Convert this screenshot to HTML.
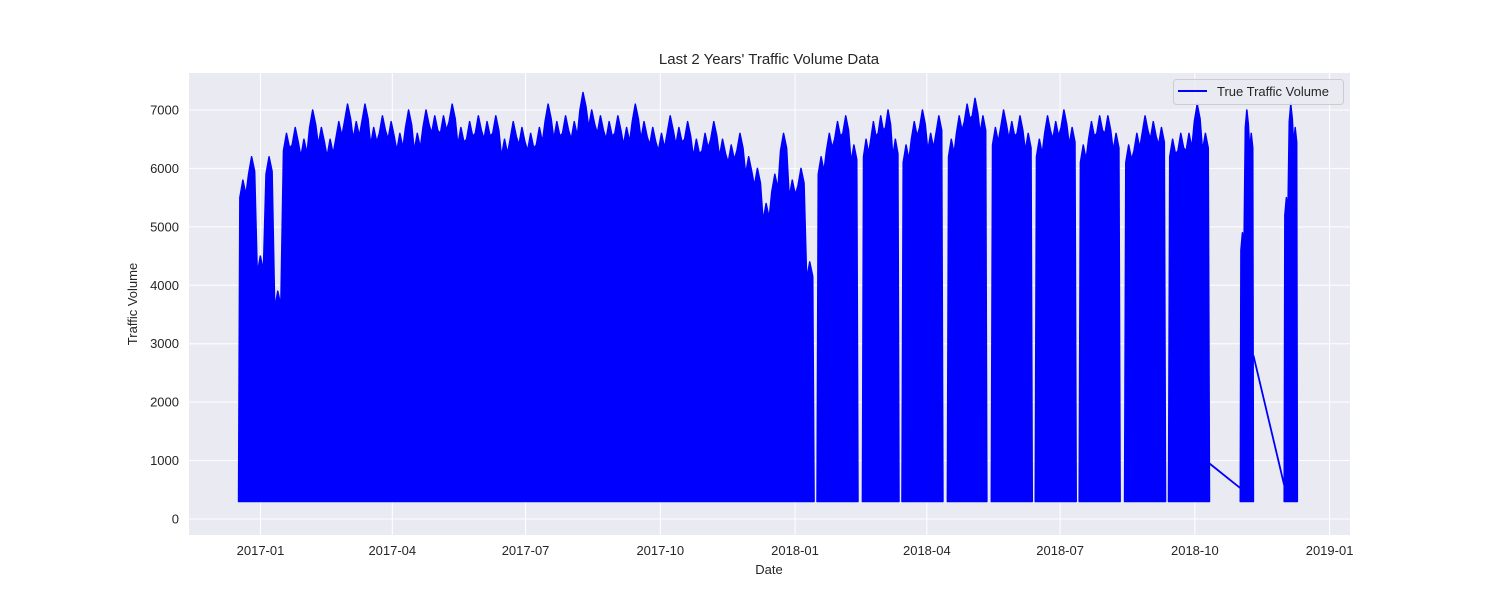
<!DOCTYPE html>
<html><head><meta charset="utf-8"><style>
body{margin:0;background:#fff;}
svg{display:block;font-family:"Liberation Sans",sans-serif;}
</style></head><body>
<svg id="chart" width="1500" height="600" viewBox="0 0 1500 600" xmlns="http://www.w3.org/2000/svg">
<rect x="189" y="73" width="1161" height="462" fill="#eaeaf2"/>
<g id="grid"></g>
<g id="series"></g>
<g id="axes"></g>
<text x="769" y="64" font-size="15" text-anchor="middle" fill="#262626">Last 2 Years' Traffic Volume Data</text>
<text x="769" y="574" font-size="13" text-anchor="middle" fill="#262626">Date</text>
<text x="137" y="304" font-size="13" text-anchor="middle" fill="#262626" transform="rotate(-90 137 304)">Traffic Volume</text>
<g>
<rect x="1173.5" y="79.5" width="170" height="25" rx="3" fill="#eaeaf2" fill-opacity="0.8" stroke="#cccccc"/>
<line x1="1178" y1="91" x2="1207" y2="91" stroke="#0000ff" stroke-width="2"/>
<text x="1217" y="96" font-size="13" fill="#262626">True Traffic Volume</text>
</g>
</svg>
<script>
// days since 2017-01-01
const segStart=[-15,380,411,438,469,499,529,559,590,620,669,699];
const segEnd=[378,408,436,466,496,527,557,587,618,648,678,708];
const peakVals=[
[5800,6200,4500,6200,3900,6600,6700,6500,7000,6700,6500,6800,7100,6800,7100,6700,6900,6800,6600,7000,6600,7000,6900,6900,7100,6700,6800,6900,6800,6900,6500,6800,6700,6600,6700,7100,6800,6900,6800,7300,7000,6900,6800,6900,6700,7100,6800,6700,6600,6900,6700,6800,6500,6600,6800,6500,6400,6600,6200,6000,5400,5900,6600,5800,6000,4400],
[6200,6600,6800,6900,6400],
[6500,6800,6900,7000,6500],
[6400,6800,7000,6600,6900],
[6500,6900,7100,7200,6900],
[6700,7000,6800,6900,6600],
[6500,6900,6800,7000,6700],
[6400,6800,6900,6900,6600],
[6400,6600,6900,6800,6700],
[6500,6600,6600,7100,6600],
[4900,7000,6600],
[5500,7100,6700]];
const lowVals=[300,300,300,300,300,300,300,300,300,300,300,300];
const gapFrom=[950,2800];
const gapTo=[530,580];
const gapAfterSeg=[9,10];
const yTicks=[0,1000,2000,3000,4000,5000,6000,7000];
const xTickDays=[0,90,181,273,365,455,546,638,730];
const xTickLabels=["2017-01","2017-04","2017-07","2017-10","2018-01","2018-04","2018-07","2018-10","2019-01"];

const NS="http://www.w3.org/2000/svg";
const xs=d=>260.5+d*1.4645;
const ys=v=>519-v*0.05843;
function mk(tag,attrs,parent){const e=document.createElementNS(NS,tag);for(const k in attrs)e.setAttribute(k,attrs[k]);parent.appendChild(e);return e;}
const grid=document.getElementById('grid'),axes=document.getElementById('axes'),series=document.getElementById('series');
yTicks.forEach(v=>{
  const l=mk('line',{x1:189,x2:1350,y1:ys(v),y2:ys(v),stroke:'#fff','stroke-width':1},grid);
  
  
  const t=mk('text',{x:179,y:ys(v)+4.5,'font-size':13,'text-anchor':'end',fill:'#262626'},axes);
  
  
  t.textContent=v;
});
xTickDays.forEach((d,i)=>{
  const l=mk('line',{x1:xs(d),x2:xs(d),y1:73,y2:535,stroke:'#fff','stroke-width':1},grid);
  
  
  const t=mk('text',{x:xs(d),y:555,'font-size':13,'text-anchor':'middle',fill:'#262626'},axes);
  
  
  t.textContent=xTickLabels[i];
});
segStart.forEach((s,i)=>{
  const e=segEnd[i],pv=peakVals[i],n=pv.length;
  const pts=[];
  pts.push([xs(s),ys(lowVals[i])]);
  pv.forEach((v,j)=>{
    const d=s+(e-s)*(j+0.5)/n;
    const w=(e-s)/n*0.35;
    pts.push([xs(d-w),ys(v-300)]);
    pts.push([xs(d),ys(v)]);
    pts.push([xs(d+w),ys(v-250)]);
  });
  pts.push([xs(e),ys(lowVals[i])]);
  const p=mk('polygon',{points:pts.map(q=>q.join(',')).join(' '),fill:'#0000ff',stroke:'#0000ff','stroke-width':1.5,'stroke-linejoin':'round'},series);
  
  
});
gapAfterSeg.forEach((si,i)=>{
  const l=mk('line',{x1:xs(segEnd[si]),y1:ys(gapFrom[i]),x2:xs(segStart[si+1]),y2:ys(gapTo[i]),stroke:'#0000ff','stroke-width':1.8},series);
  
  
});
</script>
</body></html>
